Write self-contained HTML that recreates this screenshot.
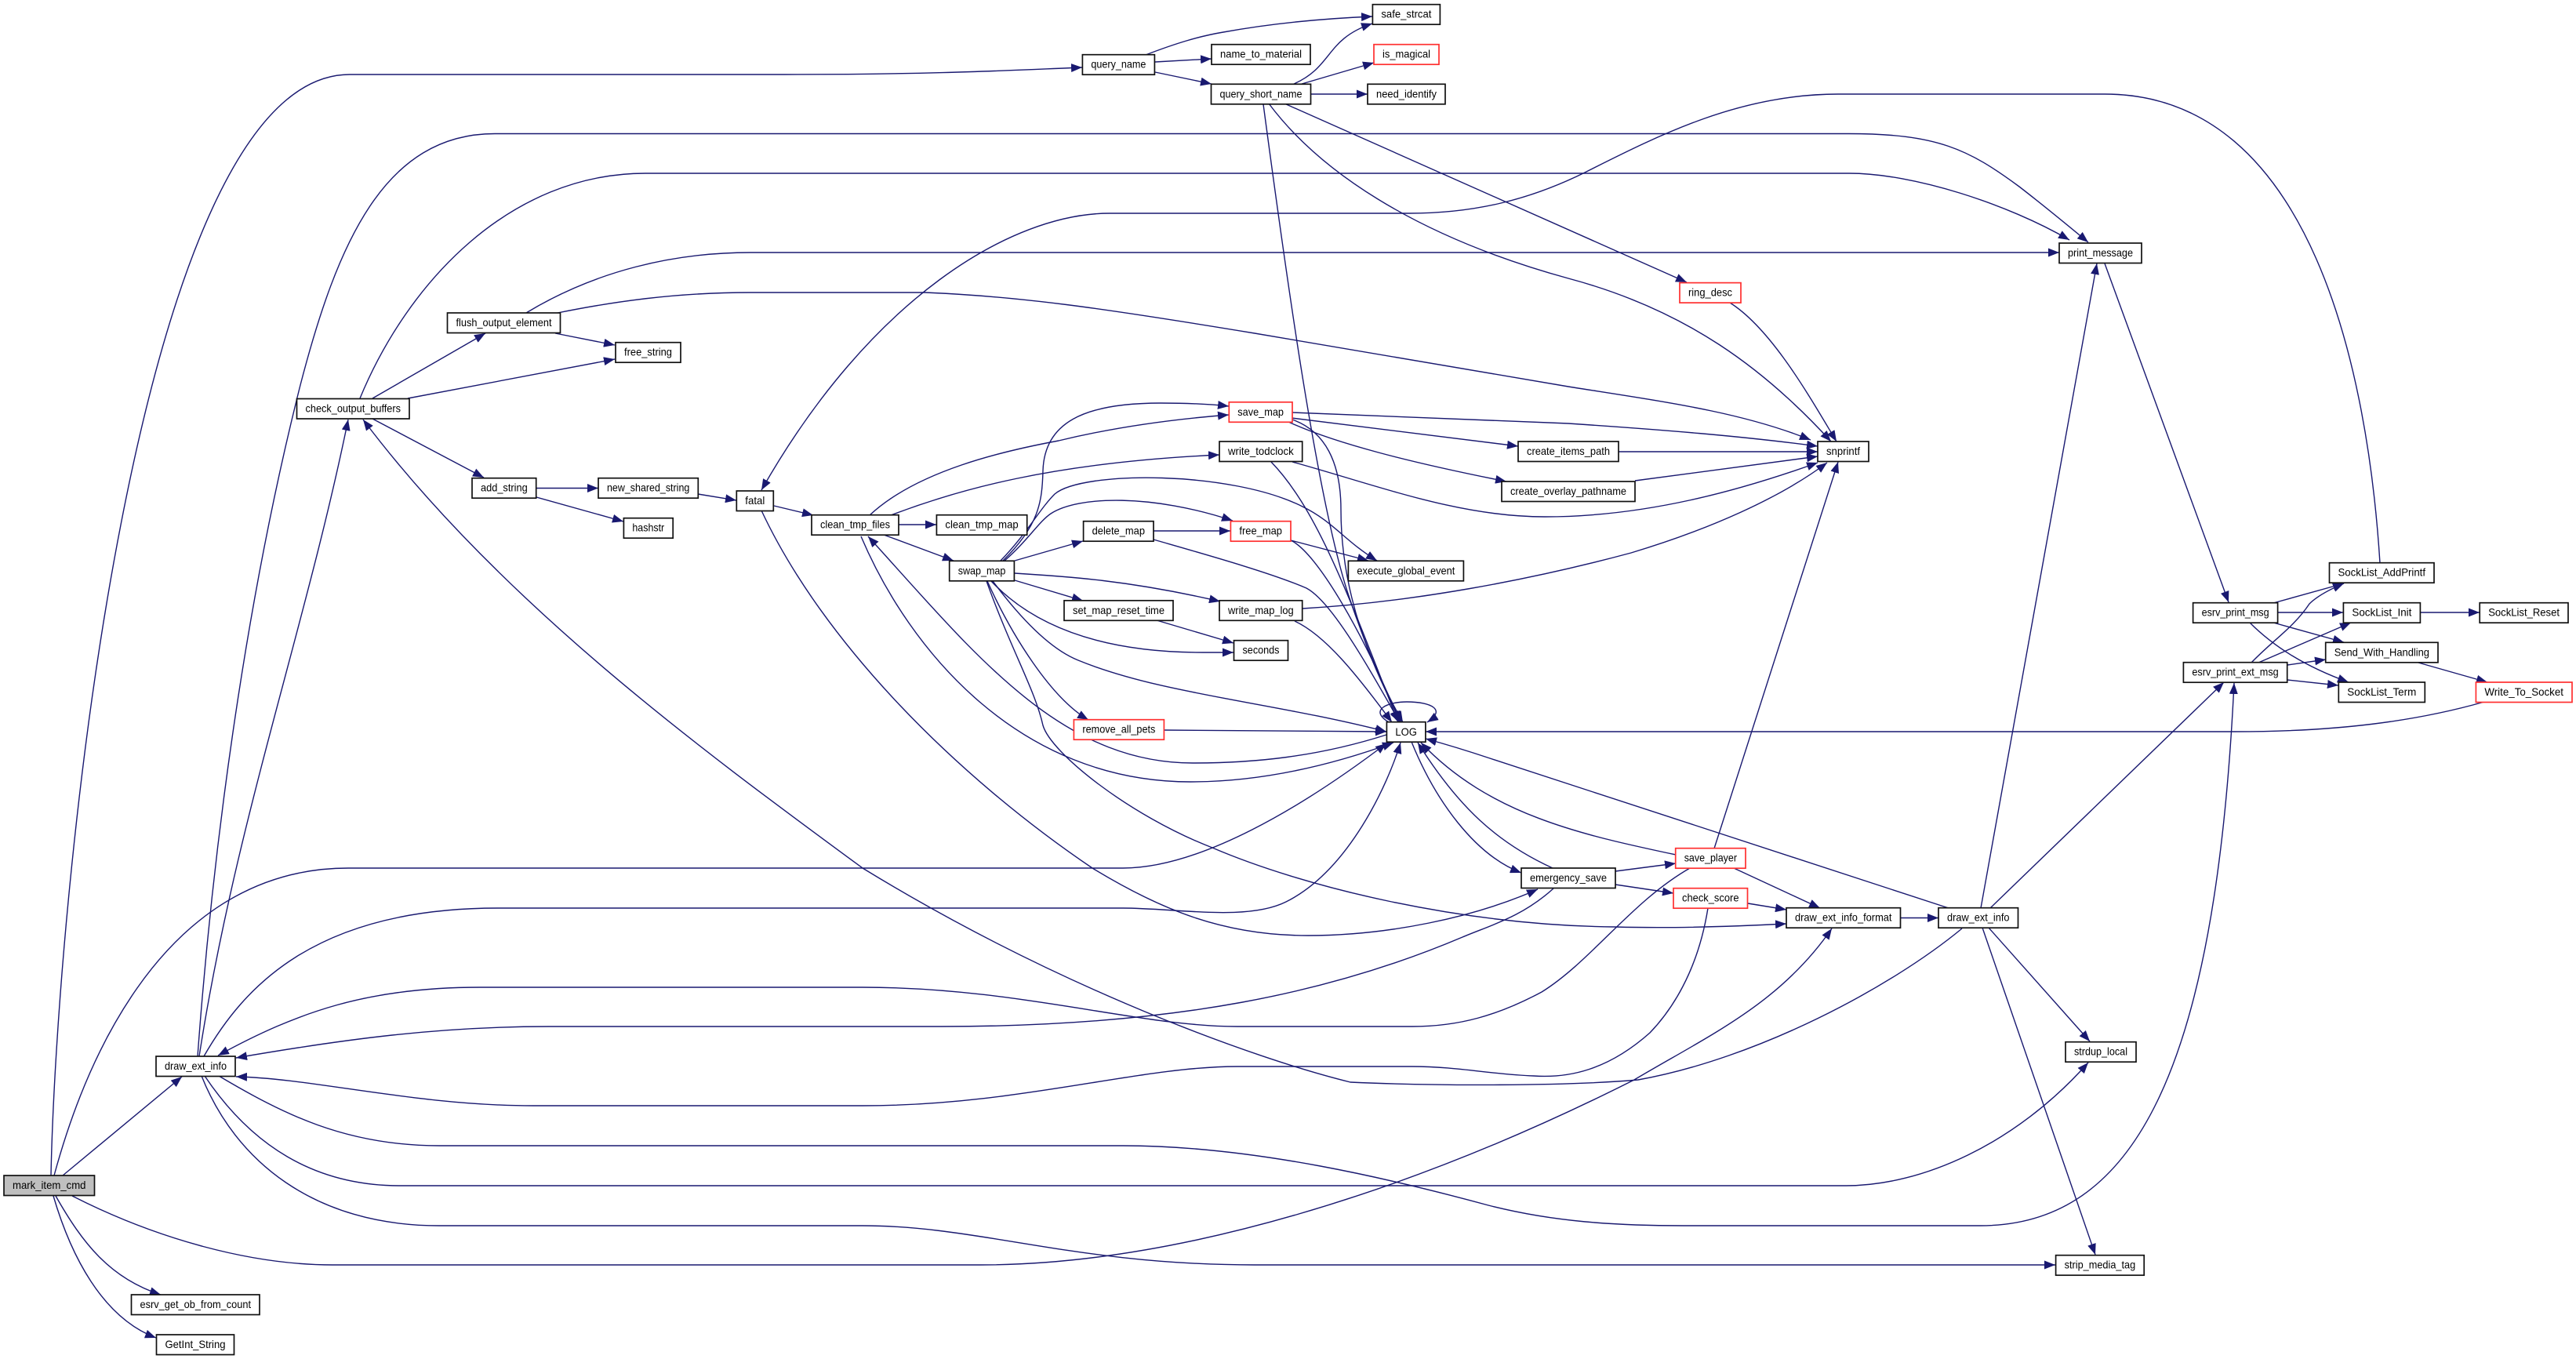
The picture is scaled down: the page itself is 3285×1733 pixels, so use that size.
<!DOCTYPE html>
<html>
<head>
<meta charset="utf-8">
<title>mark_item_cmd call graph</title>
<style>
html,body{margin:0;padding:0;background:#fff;width:3285px;height:1733px;overflow:hidden}
svg{display:block}
.e path{fill:none;stroke:#191970;stroke-width:1.4;marker-end:url(#a)}
.n rect{fill:#fff;stroke:#111;stroke-width:1.7}
.n rect.r{stroke:#ff3030}
.n rect.g{fill:#bfbfbf}
text{font-family:"Liberation Sans",sans-serif;font-size:14px;fill:#000}
</style>
</head>
<body>
<svg xmlns="http://www.w3.org/2000/svg" width="3285" height="1733" viewBox="0 0 3285 1733">
<defs>
<marker id="a" viewBox="0 0 14 11" refX="14" refY="5.5" markerWidth="14" markerHeight="11" markerUnits="userSpaceOnUse" orient="auto">
<path d="M0,0 L14,5.5 L0,11 Z" fill="#191970"/>
</marker>
</defs>
<g class="e">
<!-- mark_item_cmd -->
<path d="M65,1499 C72,1150 170,95 446,95 L1000,95 C1200,95 1300,89 1380,86"/>
<path d="M69,1499 C100,1385 195,1107 444,1107 L1432,1107 C1530,1107 1660,1030 1768,948"/>
<path d="M80,1499 L232,1373"/>
<path d="M92,1525 C200,1580 320,1613 424,1613 L1250,1613 C1500,1613 1800,1520 2084,1377 C2180,1320 2270,1280 2336,1184"/>
<path d="M71,1525 C105,1585 140,1630 205,1651"/>
<path d="M68,1525 C90,1600 130,1680 199,1706"/>
<!-- left draw_ext_info -->
<path d="M252,1347 C270,1100 310,780 383,491 C430,310 490,170.5 631,170.5 L2358,170.5 C2470,170.5 2510,190 2575,238 C2610,265 2640,290 2663,309"/>
<path d="M254,1347 C300,1050 390,800 444,535"/>
<path d="M260,1347 C310,1260 400,1158 635,1158 L1432,1158 C1500,1158 1590,1175 1640,1150 C1720,1110 1770,1000 1786,947"/>
<path d="M279,1372 C360,1420 440,1461 560,1461 L1432,1461 C1600,1461 1780,1505 1898,1537 C1980,1558 2060,1563 2147,1563 L2525,1563 C2720,1563 2825,1370 2849,871"/>
<path d="M261,1372 C320,1460 400,1512 510,1512 L2354,1512 C2450,1512 2570,1460 2663,1355"/>
<path d="M257,1372 C300,1480 400,1563 560,1563 L1100,1563 C1250,1563 1370,1613 1600,1613 L2621,1613"/>
<!-- into left draw_ext_info -->
<path d="M2178,1158 C2165,1240 2130,1290 2104,1317 C2050,1365 2000,1375 1956,1372 C1900,1370 1860,1360 1801,1360 L1578,1360 C1450,1360 1300,1410 1100,1410 L680,1410 C530,1410 400,1375 301,1373"/>
<path d="M1981,1133 C1940,1170 1900,1180 1865,1195 C1700,1265 1500,1309 1200,1309 L700,1309 C560,1309 440,1325 301,1349"/>
<path d="M2155,1107 C2080,1150 2030,1225 1966,1265 C1910,1295 1860,1309 1801,1309 L1578,1309 C1450,1309 1300,1259 1100,1259 L612,1259 C470,1259 380,1290 278,1346"/>
<!-- check_output_buffers -->
<path d="M459,508 C520,360 650,221 823,221 L2358,221 C2440,221 2560,260 2639,306"/>
<path d="M475,508 L619,425"/>
<path d="M520,508 L784,458"/>
<path d="M475,534 L617,609"/>
<path d="M708,425 L784,440"/>
<path d="M671,399 C760,345 860,322 957,322 L2626,322"/>
<path d="M711,399 C780,385 860,373 957,373 L1180,373 C1300,378 1400,392 1600,425 L2000,493 C2120,512 2220,525 2309,561"/>
<path d="M684,622.5 L763,622.5"/>
<path d="M684,634 L795,665"/>
<path d="M890,630 L939,638"/>
<path d="M987,645 L1037,657"/>
<path d="M971,651 C1050,820 1220,990 1393,1107 C1480,1160 1560,1193 1668,1193 C1770,1193 1880,1170 1961,1134"/>
<path d="M2502,1184 C2410,1260 2240,1350 2089,1377 C2000,1385 1830,1385 1722,1380 C1600,1350 1350,1260 1100,1107 C900,960 640,770 463,535"/>
<!-- SockList_AddPrintf to fatal -->
<path d="M3035,718 C3020,480 2950,120 2684,120 L2344,120 C2220,120 2120,170 2021,220 C1950,255 1880,272 1797,272 L1415,272 C1290,272 1110,380 971,625"/>
<!-- clean_tmp_files -->
<path d="M1109,657 C1170,600 1280,575 1350,562 C1420,545 1490,535 1567,529"/>
<path d="M1136,657 C1220,625 1340,590 1555,580"/>
<path d="M1146,669 L1194,669"/>
<path d="M1127,682 L1216,715"/>
<path d="M1098,684 C1160,830 1300,997 1518,997 C1610,997 1700,975 1777,947"/>
<path d="M1768,937 C1680,965 1600,973 1521,973 C1350,973 1240,830 1107,684"/>
<!-- swap_map -->
<path d="M1279,715 C1325,670 1329,640 1330,600 C1332,540 1380,514 1480,514 C1510,514 1540,515 1567,518"/>
<path d="M1281,715 C1310,690 1325,665 1340,655 C1375,632 1470,630 1572,664"/>
<path d="M1276,715 C1310,680 1325,650 1345,630 C1380,600 1570,600 1661,646 C1700,665 1715,690 1756,715"/>
<path d="M1294,715 L1381,690"/>
<path d="M1294,731 C1360,735 1440,740 1556,767"/>
<path d="M1294,740 L1381,766"/>
<path d="M1264,741 C1310,790 1390,832 1534,832 L1573,832"/>
<path d="M1266,741 C1310,800 1345,830 1375,842 C1480,885 1620,895 1768,933"/>
<path d="M1259,741 C1290,810 1340,890 1388,918"/>
<path d="M1258,741 C1290,830 1320,880 1330,925 C1340,960 1440,1040 1546,1081 C1660,1130 1860,1180 2060,1182 C2130,1184 2200,1182 2278,1178"/>
<path d="M1471,677 L1569,677"/>
<path d="M1475,791 L1573,820"/>
<path d="M1471,688 C1530,705 1620,730 1666,750 C1700,768 1750,860 1785,921"/>
<path d="M1646,689 C1680,705 1740,810 1785,921"/>
<path d="M1646,689 L1745,715"/>
<path d="M1648,535 C1690,550 1710,590 1710,650 C1710,760 1750,850 1787,921"/>
<path d="M1621,589 C1680,650 1720,760 1783,921"/>
<path d="M1651,792 C1690,810 1730,860 1775,921"/>
<path d="M1484,931 L1768,933"/>
<path d="M1771,921 C1745,905 1770,895 1794,895 C1825,895 1845,905 1820,921"/>
<!-- query_name etc -->
<path d="M1461,70 C1500,55 1530,46 1560,41 C1620,30 1680,24 1750,21"/>
<path d="M1473,79 L1545,75"/>
<path d="M1473,92 L1545,107"/>
<path d="M1650,107 C1700,85 1690,50 1750,30"/>
<path d="M1660,107 L1752,80"/>
<path d="M1672,120 L1744,120"/>
<path d="M1611,133 C1640,350 1680,640 1720,760 C1740,820 1765,880 1789,921"/>
<path d="M1618,132 C1680,215 1800,300 2000,355 C2150,395 2250,470 2335,563"/>
<path d="M1638,132 L2151,360"/>
<path d="M2206,386 C2260,420 2310,510 2342,563"/>
<!-- save_map & co to snprintf -->
<path d="M1648,526 L2000,540 C2120,548 2220,556 2318,569"/>
<path d="M1647,533 L1936,569"/>
<path d="M1641,537 C1700,565 1800,590 1921,614"/>
<path d="M2064,576 L2318,576"/>
<path d="M2085,613 L2318,582"/>
<path d="M1648,589 C1760,620 1860,659 1970,659 C2100,659 2220,625 2318,590"/>
<path d="M1661,776 C1800,768 1950,740 2080,705 C2180,675 2270,635 2330,590"/>
<path d="M2186,1082 L2344,589"/>
<!-- LOG & right side -->
<path d="M3168,895 C3080,920 2980,933 2850,933 L1818,933"/>
<path d="M2485,1158 L1900,967 C1870,957 1840,948 1818,942"/>
<path d="M1800,946 C1830,1020 1880,1090 1940,1113"/>
<path d="M1980,1107 C1910,1075 1860,1030 1808,947"/>
<path d="M2137,1090 C2020,1065 1900,1040 1812,947"/>
<path d="M2060,1111 L2137,1101"/>
<path d="M2060,1128 L2134,1139"/>
<path d="M2211,1107 L2321,1158"/>
<path d="M2229,1152 L2278,1160"/>
<path d="M2423,1170.5 L2472,1170.5"/>
<path d="M2526,1158 L2674,336"/>
<path d="M2538,1158 L2836,870"/>
<path d="M2536,1183 L2665,1328"/>
<path d="M2528,1183 L2672,1600"/>
<path d="M2684,336 L2842,768"/>
<path d="M2899,769 L2989,744"/>
<path d="M2904,781 L2988,781"/>
<path d="M2899,794 L2989,819"/>
<path d="M2869,794 C2900,825 2940,850 2995,870"/>
<path d="M2871,845 C2900,815 2925,800 2945,770 C2955,760 2970,752 2989,744"/>
<path d="M2880,845 L2998,794"/>
<path d="M2917,848 L2966,841"/>
<path d="M2917,867 L2982,874"/>
<path d="M3084,845 L3172,870"/>
<path d="M3086,781 L3162,781"/>
</g>
<g class="n">
<rect class="g" x="5" y="1499" width="115.5" height="25.5"/><text x="16" y="1516" textLength="93.5" lengthAdjust="spacingAndGlyphs">mark_item_cmd</text>
<rect x="199" y="1347" width="101" height="25.5"/><text x="210" y="1364" textLength="79" lengthAdjust="spacingAndGlyphs">draw_ext_info</text>
<rect x="167.5" y="1651" width="163.5" height="25.5"/><text x="178.5" y="1668" textLength="141.5" lengthAdjust="spacingAndGlyphs">esrv_get_ob_from_count</text>
<rect x="199.5" y="1702" width="99" height="25.5"/><text x="210.5" y="1719" textLength="77" lengthAdjust="spacingAndGlyphs">GetInt_String</text>
<rect x="378.5" y="508.5" width="143.5" height="25.5"/><text x="389.5" y="525.5" textLength="121.5" lengthAdjust="spacingAndGlyphs">check_output_buffers</text>
<rect x="570.5" y="399" width="144" height="25.5"/><text x="581.5" y="416" textLength="122" lengthAdjust="spacingAndGlyphs">flush_output_element</text>
<rect x="785" y="436.7" width="83" height="25.5"/><text x="796" y="453.7" textLength="61" lengthAdjust="spacingAndGlyphs">free_string</text>
<rect x="602" y="609.7" width="81.7" height="25.5"/><text x="613" y="626.7" textLength="59.7" lengthAdjust="spacingAndGlyphs">add_string</text>
<rect x="763" y="609.7" width="127.3" height="25.5"/><text x="774" y="626.7" textLength="105.3" lengthAdjust="spacingAndGlyphs">new_shared_string</text>
<rect x="939.3" y="626" width="47" height="25.5"/><text x="950.3" y="643" textLength="25" lengthAdjust="spacingAndGlyphs">fatal</text>
<rect x="795.4" y="660.7" width="62.8" height="25.5"/><text x="806.4" y="677.7" textLength="40.8" lengthAdjust="spacingAndGlyphs">hashstr</text>
<rect x="1035" y="656.7" width="111" height="25.5"/><text x="1046" y="673.7" textLength="89" lengthAdjust="spacingAndGlyphs">clean_tmp_files</text>
<rect x="1194.4" y="656.7" width="115.3" height="25.5"/><text x="1205.4" y="673.7" textLength="93.3" lengthAdjust="spacingAndGlyphs">clean_tmp_map</text>
<rect class="r" x="1567.3" y="512.8" width="80.7" height="25.5"/><text x="1578.3" y="529.8" textLength="58.7" lengthAdjust="spacingAndGlyphs">save_map</text>
<rect x="1555" y="563" width="105.7" height="25.5"/><text x="1566" y="580" textLength="83.7" lengthAdjust="spacingAndGlyphs">write_todclock</text>
<rect x="1381.6" y="664.7" width="89.4" height="25.5"/><text x="1392.6" y="681.7" textLength="67.4" lengthAdjust="spacingAndGlyphs">delete_map</text>
<rect class="r" x="1569.4" y="664.7" width="76.6" height="25.5"/><text x="1580.4" y="681.7" textLength="54.6" lengthAdjust="spacingAndGlyphs">free_map</text>
<rect x="1210.7" y="715.3" width="82.7" height="25.5"/><text x="1221.7" y="732.3" textLength="60.7" lengthAdjust="spacingAndGlyphs">swap_map</text>
<rect x="1719.4" y="715.3" width="147" height="25.5"/><text x="1730.4" y="732.3" textLength="125" lengthAdjust="spacingAndGlyphs">execute_global_event</text>
<rect x="1357" y="765.8" width="139" height="25.5"/><text x="1368" y="782.8" textLength="117" lengthAdjust="spacingAndGlyphs">set_map_reset_time</text>
<rect x="1555" y="765.8" width="105.7" height="25.5"/><text x="1566" y="782.8" textLength="83.7" lengthAdjust="spacingAndGlyphs">write_map_log</text>
<rect x="1573.5" y="816.7" width="69" height="25.5"/><text x="1584.5" y="833.7" textLength="47" lengthAdjust="spacingAndGlyphs">seconds</text>
<rect class="r" x="1369.4" y="917.7" width="115" height="25.5"/><text x="1380.4" y="934.7" textLength="93" lengthAdjust="spacingAndGlyphs">remove_all_pets</text>
<rect x="1768.4" y="920.7" width="49.5" height="25.5"/><text x="1779.4" y="938" textLength="27.5" lengthAdjust="spacingAndGlyphs">LOG</text>
<rect x="1380.4" y="69.7" width="92" height="25.5"/><text x="1391.4" y="86.7" textLength="70" lengthAdjust="spacingAndGlyphs">query_name</text>
<rect x="1545" y="56.7" width="126" height="25.5"/><text x="1556" y="73.7" textLength="104" lengthAdjust="spacingAndGlyphs">name_to_material</text>
<rect x="1544.5" y="107.3" width="127" height="25.5"/><text x="1555.5" y="124.3" textLength="105" lengthAdjust="spacingAndGlyphs">query_short_name</text>
<rect x="1750.4" y="5.7" width="86" height="25.5"/><text x="1761.4" y="22.7" textLength="64" lengthAdjust="spacingAndGlyphs">safe_strcat</text>
<rect class="r" x="1752" y="56.7" width="83" height="25.5"/><text x="1763" y="73.7" textLength="61" lengthAdjust="spacingAndGlyphs">is_magical</text>
<rect x="1744" y="107.3" width="99" height="25.5"/><text x="1755" y="124.3" textLength="77" lengthAdjust="spacingAndGlyphs">need_identify</text>
<rect x="2626" y="310" width="105" height="25.5"/><text x="2637" y="327" textLength="83" lengthAdjust="spacingAndGlyphs">print_message</text>
<rect class="r" x="2142" y="360.6" width="78" height="25.5"/><text x="2153" y="377.6" textLength="56" lengthAdjust="spacingAndGlyphs">ring_desc</text>
<rect x="2318" y="563" width="65" height="25.5"/><text x="2329" y="580" textLength="43" lengthAdjust="spacingAndGlyphs">snprintf</text>
<rect x="1936" y="563" width="128" height="25.5"/><text x="1947" y="580" textLength="106" lengthAdjust="spacingAndGlyphs">create_items_path</text>
<rect x="1915" y="614" width="170" height="25.5"/><text x="1926" y="631" textLength="148" lengthAdjust="spacingAndGlyphs">create_overlay_pathname</text>
<rect x="1940" y="1107" width="120" height="25.5"/><text x="1951" y="1124" textLength="98" lengthAdjust="spacingAndGlyphs">emergency_save</text>
<rect class="r" x="2136.7" y="1081.7" width="89.3" height="25.5"/><text x="2147.7" y="1098.7" textLength="67.3" lengthAdjust="spacingAndGlyphs">save_player</text>
<rect class="r" x="2134" y="1132.7" width="94.5" height="25.5"/><text x="2145" y="1149.7" textLength="72.5" lengthAdjust="spacingAndGlyphs">check_score</text>
<rect x="2278" y="1157.7" width="145.5" height="25.5"/><text x="2289" y="1174.7" textLength="123.5" lengthAdjust="spacingAndGlyphs">draw_ext_info_format</text>
<rect x="2472" y="1157.7" width="101.5" height="25.5"/><text x="2483" y="1174.7" textLength="79.5" lengthAdjust="spacingAndGlyphs">draw_ext_info</text>
<rect x="2634" y="1328.7" width="90" height="25.5"/><text x="2645" y="1345.7" textLength="68" lengthAdjust="spacingAndGlyphs">strdup_local</text>
<rect x="2621.6" y="1600.7" width="112.6" height="25.5"/><text x="2632.6" y="1617.7" textLength="90.6" lengthAdjust="spacingAndGlyphs">strip_media_tag</text>
<rect x="2796.6" y="768.7" width="108" height="25.5"/><text x="2807.6" y="785.7" textLength="86" lengthAdjust="spacingAndGlyphs">esrv_print_msg</text>
<rect x="2784.4" y="844.7" width="132.3" height="25.5"/><text x="2795.4" y="861.7" textLength="110.3" lengthAdjust="spacingAndGlyphs">esrv_print_ext_msg</text>
<rect x="2970.5" y="717.7" width="133.5" height="25.5"/><text x="2981.5" y="734.7" textLength="111.5" lengthAdjust="spacingAndGlyphs">SockList_AddPrintf</text>
<rect x="2988.4" y="768.7" width="98" height="25.5"/><text x="2999.4" y="785.7" textLength="76" lengthAdjust="spacingAndGlyphs">SockList_Init</text>
<rect x="3162.2" y="768.7" width="112.8" height="25.5"/><text x="3173.2" y="785.7" textLength="90.8" lengthAdjust="spacingAndGlyphs">SockList_Reset</text>
<rect x="2965.7" y="819.3" width="143.3" height="25.5"/><text x="2976.7" y="836.3" textLength="121.3" lengthAdjust="spacingAndGlyphs">Send_With_Handling</text>
<rect x="2982.3" y="870" width="110" height="25.5"/><text x="2993.3" y="887" textLength="88" lengthAdjust="spacingAndGlyphs">SockList_Term</text>
<rect class="r" x="3157.4" y="870" width="122.6" height="25.5"/><text x="3168.4" y="887" textLength="100.6" lengthAdjust="spacingAndGlyphs">Write_To_Socket</text>
</g>
</svg>
</body>
</html>
